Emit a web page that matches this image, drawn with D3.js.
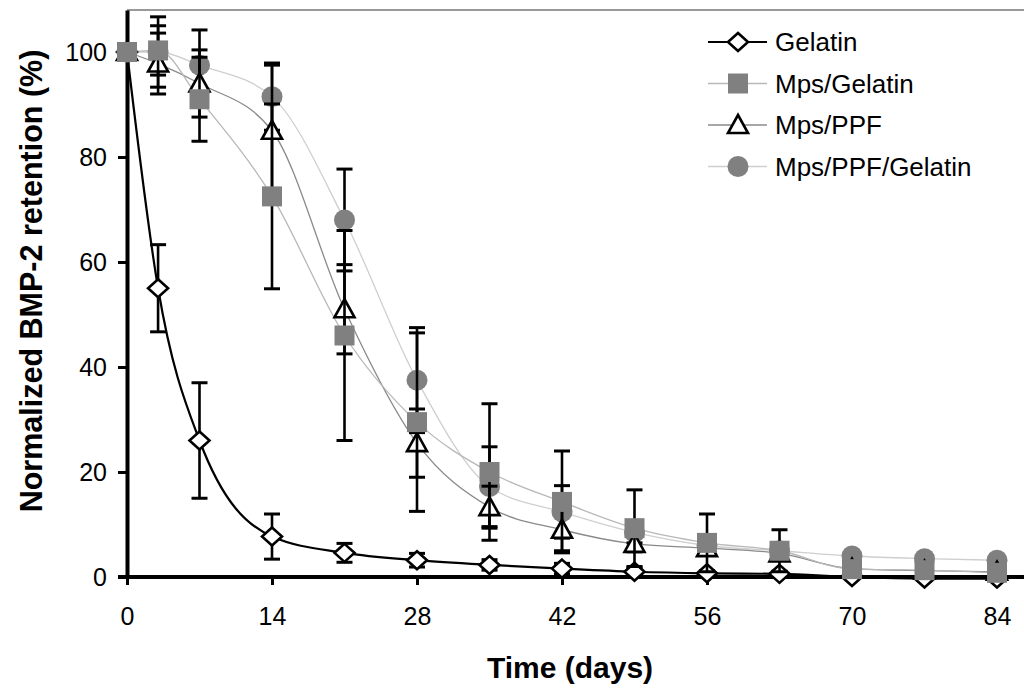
<!DOCTYPE html>
<html>
<head>
<meta charset="utf-8">
<script src="https://cdn.jsdelivr.net/npm/d3@7"></script>
<style>
    body { margin: 0; background: #fff; }
    text { font-family: "Liberation Sans", Arial, sans-serif; }
</style>
</head>
<body>
<div id="chart"></div>
<script>
const days = [0, 3, 7, 14, 21, 28, 35, 42, 49, 56, 63, 70, 77, 84];

const gelatin = [100, 55, 26, 7.7, 4.6, 3.2, 2.3, 1.6, 1.0, 0.7, 0.6, 0, -0.3, -0.3];
const gelatinErr = [0, 8.3, 11, 4.3, 1.8, 1.3, 1, 1, 0.8, 0.5, 0.5, 0.3, 0.3, 0.3];

const mpsGelatin = [100, 100.3, 91, 72.5, 46, 29.5, 20, 14.3, 9.3, 6.5, 5, 1.5, 1.3, 0.8];
const mpsGelatinErr = [0, 4.7, 8, 17.6, 20, 17, 13, 9.7, 7.3, 5.5, 4, 0.8, 0.8, 0.8];

const mpsPpf = [100, 97.8, 94, 85, 51, 25.5, 13.3, 9, 6.3, 5.5, 4.5, 1.6, 1.2, 1];
const mpsPpfErr = [0, 5.8, 6.4, 12.5, 8.5, 6.5, 4, 4, 1.5, 1, 1, 0.8, 0.5, 0.5];

const mpsPpfGelatin = [100, 100, 97.5, 91.5, 68, 37.5, 17.2, 12.4, 8.5, 6, 5, 4, 3.5, 3.2];
const mpsPpfGelatinErr = [0, 6.7, 6.7, 6.4, 9.7, 10, 7.6, 5, 2, 1.5, 1, 0.8, 0.8, 0.8];

const xTicks = [0, 14, 28, 42, 56, 70, 84];
const yTicks = [0, 20, 40, 60, 80, 100];

const seriesNames = ['Gelatin', 'Mps/Gelatin', 'Mps/PPF', 'Mps/PPF/Gelatin'];

const WIDTH = 1024;
const HEIGHT = 692;
const MARGIN = { top: 10, left: 127, bottom: 115 };

const GRAY = '#808080';

const series = [
    { name: seriesNames[0], values: gelatin, err: gelatinErr, shape: 'diamond', line: '#000', lineWidth: 2.2 },
    { name: seriesNames[2], values: mpsPpf, err: mpsPpfErr, shape: 'triangle', line: '#8a8a8a', lineWidth: 1.3 },
    { name: seriesNames[3], values: mpsPpfGelatin, err: mpsPpfGelatinErr, shape: 'circle', line: '#cfcfcf', lineWidth: 1.3 },
    { name: seriesNames[1], values: mpsGelatin, err: mpsGelatinErr, shape: 'square', line: '#b8b8b8', lineWidth: 1.3 }
];
// drawing order: gelatin, circle, triangle, square on top
const drawOrder = [0, 2, 1, 3];
// legend order
const legendOrder = [0, 3, 1, 2];

const svg = d3.select('#chart').append('svg')
    .attr('width', WIDTH)
    .attr('height', HEIGHT);

const x = d3.scaleLinear()
    .domain([0, 84])
    .range([MARGIN.left, 997]);

const y = d3.scaleLinear()
    .domain([0, 108])
    .range([HEIGHT - MARGIN.bottom, MARGIN.top]);

// top frame line
svg.append('line')
    .attr('x1', MARGIN.left).attr('x2', WIDTH)
    .attr('y1', y(108)).attr('y2', y(108))
    .attr('stroke', '#999').attr('stroke-width', 2);

// y axis
const yAxis = svg.append('g')
    .attr('transform', `translate(${MARGIN.left},0)`)
    .call(d3.axisLeft(y).tickValues(yTicks).tickSize(9).tickSizeOuter(0).tickPadding(11));
yAxis.select('.domain').attr('stroke-width', 4);
yAxis.selectAll('.tick line').attr('stroke-width', 3);
yAxis.selectAll('.tick text').attr('font-size', 25).attr('fill', '#000')
    .style('font-family', '"Liberation Sans", Arial, sans-serif');

// x axis
const xAxis = svg.append('g')
    .attr('transform', `translate(0,${y(0)})`)
    .call(d3.axisBottom(x).tickValues(xTicks).tickSize(8).tickSizeOuter(0).tickPadding(22));
xAxis.select('.domain').remove();
xAxis.append('line')
    .attr('x1', MARGIN.left - 9).attr('x2', WIDTH)
    .attr('stroke', '#000').attr('stroke-width', 4);
xAxis.selectAll('.tick line').attr('stroke-width', 3);
xAxis.selectAll('.tick text').attr('font-size', 25).attr('fill', '#000')
    .style('font-family', '"Liberation Sans", Arial, sans-serif');

// axis titles
svg.append('text')
    .attr('x', 570).attr('y', 678)
    .attr('text-anchor', 'middle')
    .attr('font-size', 30).attr('font-weight', 'bold')
    .text('Time (days)');

svg.append('text')
    .attr('transform', 'translate(42,281) rotate(-90)')
    .attr('text-anchor', 'middle')
    .attr('font-size', 30.5).attr('font-weight', 'bold')
    .text('Normalized BMP-2 retention (%)');

const markerPath = shape => {
    const p = d3.path();
    if (shape === 'diamond') {
        p.moveTo(0, -9); p.lineTo(10, 0); p.lineTo(0, 9); p.lineTo(-10, 0); p.closePath();
    } else if (shape === 'triangle') {
        p.moveTo(0, -10); p.lineTo(10, 8); p.lineTo(-10, 8); p.closePath();
    } else if (shape === 'square') {
        p.rect(-10, -10, 20, 20);
    } else {
        p.arc(0, 0, 10.5, 0, 2 * Math.PI);
    }
    return p.toString();
};

const drawMarker = (g, shape, cx, cy) => {
    const m = g.append('path')
        .attr('d', markerPath(shape))
        .attr('transform', `translate(${cx},${cy})`);
    if (shape === 'diamond' || shape === 'triangle') {
        m.attr('fill', '#fff').attr('stroke', '#000').attr('stroke-width', 2.6)
            .attr('stroke-linejoin', 'miter');
    } else {
        m.attr('fill', GRAY);
    }
};

// curves
const line = d3.line()
    .x((d, i) => x(days[i]))
    .y(d => y(d))
    .curve(d3.curveMonotoneX);

drawOrder.forEach(i => {
    const s = series[i];
    svg.append('path')
        .attr('d', line(s.values))
        .attr('fill', 'none')
        .attr('stroke', s.line)
        .attr('stroke-width', s.lineWidth);
});

// error bars and markers
drawOrder.forEach(i => {
    const s = series[i];
    const g = svg.append('g');
    s.values.forEach((v, k) => {
        const e = s.err[k];
        if (e > 0) {
            const cx = x(days[k]);
            g.append('line')
                .attr('x1', cx).attr('x2', cx)
                .attr('y1', y(v - e)).attr('y2', y(v + e))
                .attr('stroke', '#000').attr('stroke-width', 2.6);
            [v - e, v + e].forEach(c => {
                g.append('line')
                    .attr('x1', cx - 8).attr('x2', cx + 8)
                    .attr('y1', y(c)).attr('y2', y(c))
                    .attr('stroke', '#000').attr('stroke-width', 3);
            });
        }
    });
    s.values.forEach((v, k) => drawMarker(g, s.shape, x(days[k]), y(v)));
});

// legend
const legend = svg.append('g');
legendOrder.forEach((i, row) => {
    const s = series[i];
    const ly = 42 + row * 41.5;
    legend.append('line')
        .attr('x1', 708).attr('x2', 767)
        .attr('y1', ly).attr('y2', ly)
        .attr('stroke', s.line)
        .attr('stroke-width', s.lineWidth);
    drawMarker(legend, s.shape, 738, ly);
    legend.append('text')
        .attr('x', 775).attr('y', ly)
        .attr('dy', '0.35em')
        .attr('font-size', 26)
        .text(s.name);
});
</script>
</body>
</html>
